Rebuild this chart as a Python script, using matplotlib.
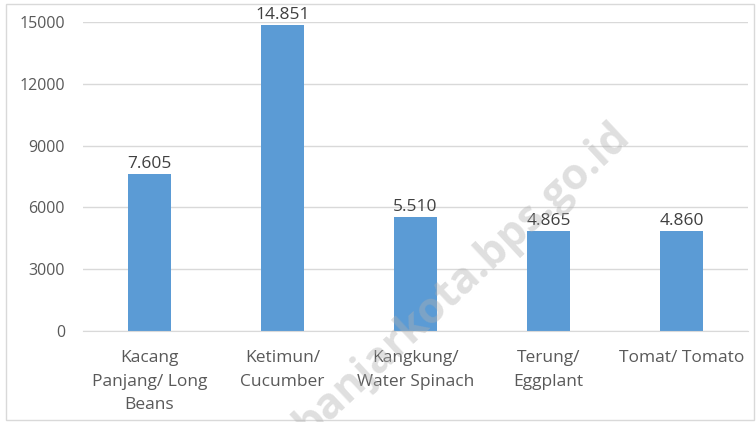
import matplotlib.pyplot as plt
from matplotlib.patches import Rectangle

plt.rcParams["font.family"] = ["Open Sans", "DejaVu Sans"]

categories = [
    "Kacang\nPanjang/ Long\nBeans",
    "Ketimun/\nCucumber",
    "Kangkung/\nWater Spinach",
    "Terung/\nEggplant",
    "Tomat/ Tomato",
]
values = [7605, 14851, 5510, 4865, 4860]
value_labels = ["7.605", "14.851", "5.510", "4.865", "4.860"]
y_ticks = [0, 3000, 6000, 9000, 12000, 15000]

bar_color = "#5b9bd5"
text_color = "#595959"

fig = plt.figure(figsize=(7.56, 4.22), dpi=100)
ax = fig.add_axes([0.1098, 0.2156, 0.8796, 0.7323])

x = range(len(categories))
bars = ax.bar(x, values, width=0.32, color=bar_color, zorder=2)

for rect, lab in zip(bars, value_labels):
    ax.annotate(lab, (rect.get_x() + rect.get_width() / 2, rect.get_height()),
                xytext=(0, 1.5), textcoords="offset points", ha="center", va="bottom",
                fontsize=12.5, color="#404040", annotation_clip=False)

ax.set_xlim(-0.5, len(categories) - 0.5)
ax.set_ylim(0, 15000)
ax.set_yticks(y_ticks)
ax.set_yticklabels([str(t) for t in y_ticks], fontsize=11.5, color=text_color)
ax.set_xticks(list(x))
ax.set_xticklabels(categories, fontsize=12.5, color=text_color, linespacing=1.6)
ax.tick_params(axis="y", length=0, pad=13)
ax.tick_params(axis="x", length=0, pad=14)
ax.grid(axis="y", color="#d9d9d9", linewidth=1, zorder=0)
for side in ["top", "right", "left"]:
    ax.spines[side].set_visible(False)
ax.spines["bottom"].set_color("#d9d9d9")

# chart border
fig.patches.append(Rectangle((6 / 756, 2 / 422), 748 / 756, 416 / 422,
                             transform=fig.transFigure, fill=False,
                             edgecolor="#d9d9d9", linewidth=1))

# watermark
fig.text(462 / 756, 1 - 280 / 422, "banjarkota.bps.go.id", rotation=43,
         ha="center", va="center", fontsize=31, fontweight="bold",
         color="#b0b0b0", alpha=0.4, zorder=5)

fig.savefig("out.png", dpi=100)
